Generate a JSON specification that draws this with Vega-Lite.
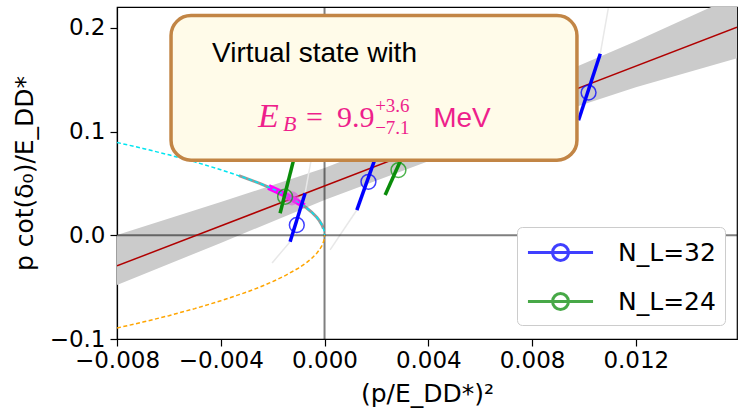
{
  "$schema": "https://vega.github.io/schema/vega-lite/v6.json",
  "autosize": {"type": "none"},
  "padding": {"left": 117, "top": 7, "right": 1, "bottom": 77},
  "width": 620,
  "height": 332,
  "background": "white",
  "config": {
    "view": {"stroke": "black", "strokeWidth": 1.2},
    "axis": {
      "grid": false, "domainColor": "black", "domainWidth": 1.2,
      "tickColor": "black", "tickWidth": 1.2, "tickSize": 7,
      "labelColor": "black", "titleColor": "black",
      "labelFont": "DejaVu Sans", "titleFont": "DejaVu Sans",
      "labelFontSize": 23, "titleFontSize": 25, "titleFontWeight": "normal"
    }
  },
  "datasets": {
    "band": [
      {"x": -0.008, "lo": -0.048, "hi": 0.0003},
      {"x": -0.004, "lo": -0.0074, "hi": 0.032},
      {"x": 0.0, "lo": 0.034, "hi": 0.0647},
      {"x": 0.004, "lo": 0.0714, "hi": 0.104},
      {"x": 0.008, "lo": 0.110, "hi": 0.144},
      {"x": 0.012, "lo": 0.1426, "hi": 0.187},
      {"x": 0.0159, "lo": 0.1705, "hi": 0.2313}
    ],
    "fit": [{"x": -0.008, "y": -0.0295}, {"x": 0.0159, "y": 0.2006}],
    "faint": [
      {"id": "f1", "x": -0.002022, "y": -0.0267}, {"id": "f1", "x": -0.001327, "y": -0.0062},
      {"id": "f1b", "x": -0.000749, "y": 0.0404}, {"id": "f1b", "x": -0.000517, "y": 0.0724},
      {"id": "f2", "x": 0.000215, "y": -0.0141}, {"id": "f2", "x": 0.001245, "y": 0.0243},
      {"id": "f3", "x": 0.01063, "y": 0.175}, {"id": "f3", "x": 0.010938, "y": 0.2186}
    ],
    "upper": [
      {"x": -0.008, "y": 0.0894}, {"x": -0.007, "y": 0.0837}, {"x": -0.006, "y": 0.0775},
      {"x": -0.005, "y": 0.0707}, {"x": -0.004, "y": 0.0632}, {"x": -0.003, "y": 0.0548},
      {"x": -0.0025, "y": 0.05}, {"x": -0.002, "y": 0.0447}, {"x": -0.0015, "y": 0.0387},
      {"x": -0.001, "y": 0.0316}, {"x": -0.0007, "y": 0.0265}, {"x": -0.0005, "y": 0.0224},
      {"x": -0.0003, "y": 0.0173}, {"x": -0.0002, "y": 0.0141}, {"x": -0.0001, "y": 0.01},
      {"x": -0.00005, "y": 0.0071}, {"x": -0.00002, "y": 0.0045}, {"x": -0.00001, "y": 0.0032},
      {"x": 0.0, "y": 0.0}
    ],
    "lower": [
      {"x": -0.008, "y": -0.0894}, {"x": -0.007, "y": -0.0837}, {"x": -0.006, "y": -0.0775},
      {"x": -0.005, "y": -0.0707}, {"x": -0.004, "y": -0.0632}, {"x": -0.003, "y": -0.0548},
      {"x": -0.0025, "y": -0.05}, {"x": -0.002, "y": -0.0447}, {"x": -0.0015, "y": -0.0387},
      {"x": -0.001, "y": -0.0316}, {"x": -0.0007, "y": -0.0265}, {"x": -0.0005, "y": -0.0224},
      {"x": -0.0003, "y": -0.0173}, {"x": -0.0002, "y": -0.0141}, {"x": -0.0001, "y": -0.01},
      {"x": -0.00005, "y": -0.0071}, {"x": -0.00002, "y": -0.0045}, {"x": -0.00001, "y": -0.0032},
      {"x": 0.0, "y": 0.0}
    ],
    "arc": [
      {"x": -0.0033, "y": 0.0574}, {"x": -0.0025, "y": 0.05}, {"x": -0.002, "y": 0.0447},
      {"x": -0.0015, "y": 0.0387}, {"x": -0.001, "y": 0.0316}, {"x": -0.0007, "y": 0.0265},
      {"x": -0.0005, "y": 0.0224}, {"x": -0.0003, "y": 0.0173}, {"x": -0.0002, "y": 0.0141},
      {"x": -0.0001, "y": 0.01}, {"x": -0.00004, "y": 0.0063}
    ],
    "seg": [
      {"x": -0.00216, "y": 0.0465}, {"x": -0.0018, "y": 0.0424}, {"x": -0.0015, "y": 0.0387},
      {"x": -0.0012, "y": 0.0346}, {"x": -0.00095, "y": 0.0308}, {"x": -0.00079, "y": 0.0281}
    ],
    "dot": [{"x": -0.00126, "y": 0.0356}],
    "errs": [
      {"s": "N_L=32", "id": "b1", "x": -0.001327, "y": -0.0062}, {"s": "N_L=32", "id": "b1", "x": -0.000749, "y": 0.0404},
      {"s": "N_L=32", "id": "b2", "x": 0.001245, "y": 0.0243}, {"s": "N_L=32", "id": "b2", "x": 0.002067, "y": 0.082},
      {"s": "N_L=32", "id": "b3", "x": 0.009792, "y": 0.1109}, {"s": "N_L=32", "id": "b3", "x": 0.01063, "y": 0.175},
      {"s": "N_L=24", "id": "g1", "x": -0.001713, "y": 0.0212}, {"s": "N_L=24", "id": "g1", "x": -0.001096, "y": 0.082},
      {"s": "N_L=24", "id": "g2", "x": 0.002337, "y": 0.0388}, {"s": "N_L=24", "id": "g2", "x": 0.003108, "y": 0.082}
    ],
    "pts": [
      {"s": "N_L=32", "x": -0.001069, "y": 0.0099},
      {"s": "N_L=32", "x": 0.001693, "y": 0.0515},
      {"s": "N_L=32", "x": 0.010178, "y": 0.1375},
      {"s": "N_L=24", "x": -0.00152, "y": 0.0371},
      {"s": "N_L=24", "x": 0.00285, "y": 0.0628}
    ],
    "box": [{"x": -0.005917, "x2": 0.00973, "y": 0.0724, "y2": 0.2118}],
    "t1": [{"x": -0.004336, "y": 0.1669, "t": "Virtual state with"}],
    "tMeV": [{"x": 0.004188, "y": 0.1041, "t": "MeV"}],
    "tE": [{"x": -0.002562, "y": 0.1041, "t": "E"}],
    "tB": [{"x": -0.0016, "y": 0.1003, "t": "B"}],
    "tMain": [{"x": -0.00071, "y": 0.1041, "t": "="}, {"x": 0.000485, "y": 0.1041, "t": "9.9"}],
    "tSS": [{"x": 0.001951, "y": 0.1185, "t": "+3.6"}, {"x": 0.001951, "y": 0.0976, "t": "−7.1"}]
  },
  "layer": [
    {
      "data": {"name": "band"},
      "mark": {"type": "area", "color": "#cbcbcb", "clip": true},
      "encoding": {
        "x": {"field": "x", "type": "quantitative",
          "scale": {"domain": [-0.008, 0.0159], "nice": false, "zero": false},
          "axis": {"title": "(p/E_DD*)²", "values": [-0.008, -0.004, 0, 0.004, 0.008, 0.012], "format": ".3f", "labelPadding": 3, "titlePadding": 9, "labelOverlap": false, "labelFlush": false}},
        "y": {"field": "hi", "type": "quantitative",
          "scale": {"domain": [-0.1, 0.22], "nice": false, "zero": false},
          "axis": {"title": "p cot(δ₀)/E_DD*", "values": [-0.1, 0, 0.1, 0.2], "format": ".1f", "labelPadding": 5, "titlePadding": 12}},
        "y2": {"field": "lo"}
      }
    },
    {
      "data": {"name": "faint"},
      "mark": {"type": "line", "color": "#e8e8e8", "strokeWidth": 1.5, "clip": true},
      "encoding": {
        "x": {"field": "x", "type": "quantitative"},
        "y": {"field": "y", "type": "quantitative"},
        "detail": {"field": "id"}
      }
    },
    {
      "data": {"values": [{"v": 0}]},
      "mark": {"type": "rule", "color": "black", "opacity": 0.5, "strokeWidth": 2},
      "encoding": {"x": {"datum": 0, "type": "quantitative"}}
    },
    {
      "data": {"values": [{"v": 0}]},
      "mark": {"type": "rule", "color": "black", "opacity": 0.5, "strokeWidth": 2},
      "encoding": {"y": {"datum": 0, "type": "quantitative"}}
    },
    {
      "data": {"name": "fit"},
      "mark": {"type": "line", "color": "#b00000", "strokeWidth": 1.5, "clip": true},
      "encoding": {
        "x": {"field": "x", "type": "quantitative"},
        "y": {"field": "y", "type": "quantitative"}
      }
    },
    {
      "data": {"name": "arc"},
      "mark": {"type": "line", "color": "#777777", "opacity": 0.75, "strokeWidth": 3},
      "encoding": {
        "x": {"field": "x", "type": "quantitative"},
        "y": {"field": "y", "type": "quantitative"}
      }
    },
    {
      "data": {"name": "seg"},
      "mark": {"type": "line", "color": "#ff00ff", "strokeWidth": 6},
      "encoding": {
        "x": {"field": "x", "type": "quantitative"},
        "y": {"field": "y", "type": "quantitative"}
      }
    },
    {
      "data": {"name": "upper"},
      "mark": {"type": "line", "color": "#00e5f0", "strokeWidth": 1.5, "strokeDash": [4, 2.5], "clip": true},
      "encoding": {
        "x": {"field": "x", "type": "quantitative"},
        "y": {"field": "y", "type": "quantitative"}
      }
    },
    {
      "data": {"name": "lower"},
      "mark": {"type": "line", "color": "#ffa500", "strokeWidth": 1.5, "strokeDash": [4, 2.5], "clip": true},
      "encoding": {
        "x": {"field": "x", "type": "quantitative"},
        "y": {"field": "y", "type": "quantitative"}
      }
    },
    {
      "data": {"name": "dot"},
      "mark": {"type": "point", "filled": true, "shape": "circle", "color": "#dd55dd", "opacity": 0.55, "size": 200},
      "encoding": {
        "x": {"field": "x", "type": "quantitative"},
        "y": {"field": "y", "type": "quantitative"}
      }
    },
    {
      "data": {"name": "errs"},
      "mark": {"type": "line", "strokeWidth": 3.5, "clip": true},
      "encoding": {
        "x": {"field": "x", "type": "quantitative"},
        "y": {"field": "y", "type": "quantitative"},
        "detail": {"field": "id"},
        "color": {"field": "s", "type": "nominal",
          "scale": {"domain": ["N_L=32", "N_L=24"], "range": ["#0000ff", "#0a8c0a"]},
          "legend": {
            "title": null, "orient": "none", "legendX": 400, "legendY": 220,
            "symbolType": "M-2.17,0L2.17,0M0.53,0A0.53,0.53,0,1,1,-0.53,0A0.53,0.53,0,1,1,0.53,0",
            "symbolSize": 900, "symbolStrokeWidth": 3, "symbolOffset": 18, "symbolOpacity": 0.75,
            "symbolFillColor": "transparent",
            "labelOffset": 41, "labelFontSize": 25, "labelFont": "DejaVu Sans", "labelColor": "black",
            "padding": 9, "rowPadding": 18, "strokeColor": "#cccccc", "cornerRadius": 5, "fillColor": "white"
          }}
      }
    },
    {
      "data": {"name": "pts"},
      "mark": {"type": "point", "filled": false, "shape": "circle", "size": 220, "strokeWidth": 1.5, "opacity": 0.75},
      "encoding": {
        "x": {"field": "x", "type": "quantitative"},
        "y": {"field": "y", "type": "quantitative"},
        "stroke": {"field": "s", "type": "nominal",
          "scale": {"domain": ["N_L=32", "N_L=24"], "range": ["#0000ff", "#109a10"]},
          "legend": null}
      }
    },
    {
      "data": {"name": "box"},
      "mark": {"type": "rect", "fill": "#fffbe9", "stroke": "#c28545", "strokeWidth": 3.5, "cornerRadius": 20},
      "encoding": {
        "x": {"field": "x", "type": "quantitative"},
        "x2": {"field": "x2"},
        "y": {"field": "y", "type": "quantitative"},
        "y2": {"field": "y2"}
      }
    },
    {
      "data": {"name": "t1"},
      "mark": {"type": "text", "align": "left", "baseline": "alphabetic", "font": "Liberation Sans", "fontSize": 28, "color": "black"},
      "encoding": {
        "x": {"field": "x", "type": "quantitative"},
        "y": {"field": "y", "type": "quantitative"},
        "text": {"field": "t"}
      }
    },
    {
      "data": {"name": "tMeV"},
      "mark": {"type": "text", "align": "left", "baseline": "alphabetic", "font": "Liberation Sans", "fontSize": 28, "color": "#ee1f8c"},
      "encoding": {
        "x": {"field": "x", "type": "quantitative"},
        "y": {"field": "y", "type": "quantitative"},
        "text": {"field": "t"}
      }
    },
    {
      "data": {"name": "tE"},
      "mark": {"type": "text", "align": "left", "baseline": "alphabetic", "font": "Liberation Serif", "fontStyle": "italic", "fontSize": 34, "color": "#ee1f8c"},
      "encoding": {
        "x": {"field": "x", "type": "quantitative"},
        "y": {"field": "y", "type": "quantitative"},
        "text": {"field": "t"}
      }
    },
    {
      "data": {"name": "tB"},
      "mark": {"type": "text", "align": "left", "baseline": "alphabetic", "font": "Liberation Serif", "fontStyle": "italic", "fontSize": 22, "color": "#ee1f8c"},
      "encoding": {
        "x": {"field": "x", "type": "quantitative"},
        "y": {"field": "y", "type": "quantitative"},
        "text": {"field": "t"}
      }
    },
    {
      "data": {"name": "tMain"},
      "mark": {"type": "text", "align": "left", "baseline": "alphabetic", "font": "Liberation Serif", "fontSize": 30, "color": "#ee1f8c"},
      "encoding": {
        "x": {"field": "x", "type": "quantitative"},
        "y": {"field": "y", "type": "quantitative"},
        "text": {"field": "t"}
      }
    },
    {
      "data": {"name": "tSS"},
      "mark": {"type": "text", "align": "left", "baseline": "alphabetic", "font": "Liberation Serif", "fontSize": 19, "color": "#ee1f8c"},
      "encoding": {
        "x": {"field": "x", "type": "quantitative"},
        "y": {"field": "y", "type": "quantitative"},
        "text": {"field": "t"}
      }
    }
  ]
}
